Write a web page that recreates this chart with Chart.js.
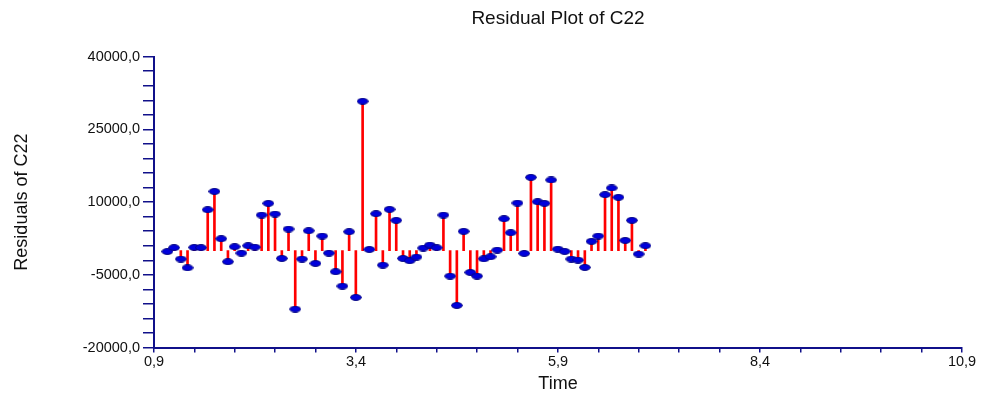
<!DOCTYPE html>
<html>
<head>
<meta charset="utf-8">
<script src="https://cdn.jsdelivr.net/npm/chart.js@4"></script>
<style>
  html, body { margin: 0; padding: 0; background: #ffffff; }
  #wrap { width: 983px; height: 398px; }
</style>
</head>
<body>
<div id="wrap"><canvas id="c" width="983" height="398"></canvas></div>
<script>
// ---- data ----
const times = [
  1.065, 1.148, 1.232, 1.315, 1.398, 1.482, 1.565, 1.648, 1.732, 1.815, 1.898, 1.982,
  2.065, 2.148, 2.232, 2.315, 2.398, 2.482, 2.565, 2.648, 2.732, 2.815, 2.898, 2.982,
  3.065, 3.148, 3.232, 3.315, 3.398, 3.482, 3.565, 3.648, 3.732, 3.815, 3.898, 3.982,
  4.065, 4.148, 4.232, 4.315, 4.398, 4.482, 4.565, 4.648, 4.732, 4.815, 4.898, 4.982,
  5.065, 5.148, 5.232, 5.315, 5.398, 5.482, 5.565, 5.648, 5.732, 5.815, 5.898, 5.982,
  6.065, 6.148, 6.232, 6.315, 6.398, 6.482, 6.565, 6.648, 6.732, 6.815, 6.898, 6.982
];
const residuals = [
  -200, 600, -1750, -3550, 650, 600, 8430, 12200, 2450, -2300, 800, -520,
  1000, 700, 7330, 9740, 7540, -1620, 4440, -12080, -1750, 4100, -2650, 3000,
  -520, -4370, -7330, 3890, -9670, 30800, 240, 7600, -3000, 8500, 6230, -1620,
  -2100, -1340, 520, 1140, 590, 7330, -5270, -11320, 3960, -4500, -5270, -1690,
  -1270, 100, 6570, 3680, 9810, -590, 15110, 10080, 9740, 14560, 300, -170,
  -1750, -1960, -3470, 1900, 3000, 11530, 12910, 10990, 2100, 6230, -720, 1000
];
const xTickLabels = ['0,9', '3,4', '5,9', '8,4', '10,9'];
const yTickLabels = ['-20000,0', '-5000,0', '10000,0', '25000,0', '40000,0'];

const chartTitle = 'Residual Plot of C22';
const xTitle = 'Time';
const yTitle = 'Residuals of C22';

// ---- build ----
const pts = times.map((t, i) => ({ x: t, y: residuals[i] }));

const dot = document.createElement('canvas');
dot.width = 12; dot.height = 7;
(function () {
  const g = dot.getContext('2d');
  g.beginPath();
  g.ellipse(6, 3.5, 5.4, 2.9, 0, 0, Math.PI * 2);
  g.fillStyle = '#0000dc';
  g.fill();
  g.lineWidth = 1;
  g.strokeStyle = '#000080';
  g.stroke();
})();

const AXIS = '#10108a';
const FONT = 'Liberation Sans, Arial, sans-serif';

new Chart(document.getElementById('c'), {
  type: 'scatter',
  data: {
    datasets: [
      {
        type: 'scatter',
        data: pts,
        pointStyle: dot,
        pointRadius: 6,
        order: 0
      },
      {
        type: 'bar',
        data: pts,
        backgroundColor: '#ff0000',
        borderWidth: 0,
        barThickness: 2,
        order: 1
      }
    ]
  },
  options: {
    responsive: false,
    animation: false,
    events: [],
    layout: { padding: { left: 0, right: 21, top: 0, bottom: 0 } },
    plugins: {
      legend: { display: false },
      tooltip: { enabled: false },
      title: {
        display: true,
        text: chartTitle,
        fullSize: false,
        color: '#111',
        font: { family: FONT, size: 19, weight: 'normal' },
        padding: { top: 7.6, bottom: 26.3 }
      }
    },
    scales: {
      x: {
        type: 'linear',
        min: 0.9,
        max: 10.9,
        offset: false,
        afterFit: (s) => { s.height = 50.5; },
        border: { display: true, color: AXIS, width: 2 },
        grid: {
          display: true,
          offset: false,
          drawOnChartArea: false,
          drawTicks: true,
          tickLength: 5,
          color: AXIS,
          lineWidth: 1.5
        },
        ticks: {
          stepSize: 0.5,
          autoSkip: false,
          maxRotation: 0,
          padding: 0.5,
          color: '#111',
          font: { family: FONT, size: 14.5 },
          callback: (v, i) => (i % 5 === 0 ? xTickLabels[i / 5] : '')
        },
        title: {
          display: true,
          text: xTitle,
          color: '#111',
          font: { family: FONT, size: 18 },
          padding: { top: 0, bottom: 3.2 }
        }
      },
      y: {
        type: 'linear',
        min: -20000,
        max: 40000,
        afterFit: (s) => { s.width = 154; },
        border: { display: true, color: AXIS, width: 2 },
        grid: {
          display: true,
          drawOnChartArea: false,
          drawTicks: true,
          tickLength: 11,
          color: AXIS,
          lineWidth: 1.5
        },
        ticks: {
          stepSize: 3000,
          autoSkip: false,
          padding: 3,
          color: '#111',
          font: { family: FONT, size: 14.5 },
          callback: (v, i) => (i % 5 === 0 ? yTickLabels[i / 5] : '')
        },
        title: {
          display: true,
          text: yTitle,
          color: '#111',
          font: { family: FONT, size: 18 },
          padding: { top: 11, bottom: 0 }
        }
      }
    }
  }
});
</script>
</body>
</html>
